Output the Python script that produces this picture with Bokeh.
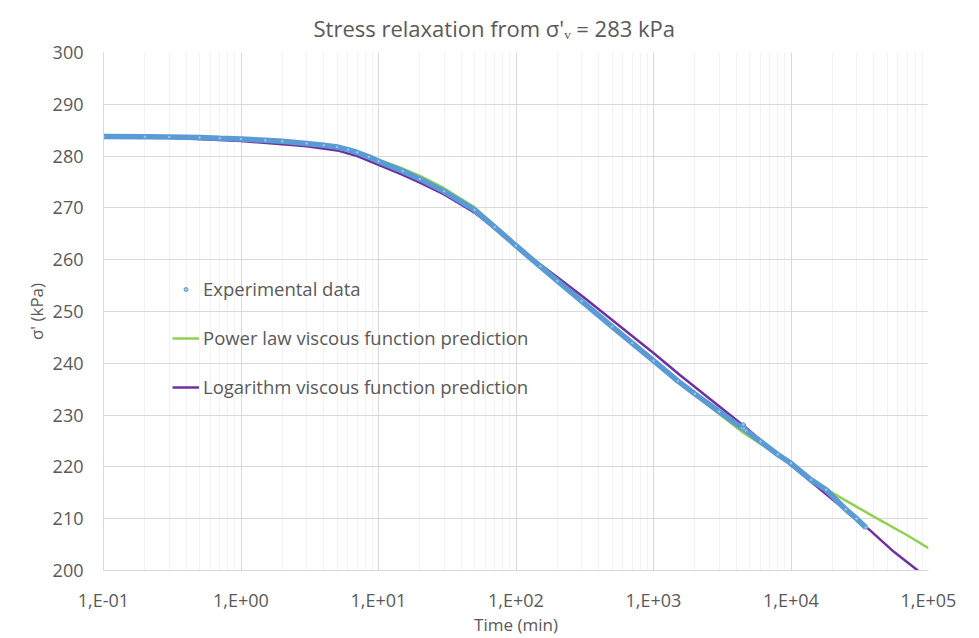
from bokeh.plotting import figure
from bokeh.models import (Range1d, FixedTicker, CustomJSTickFormatter, Legend, LegendItem)
from bokeh.embed import file_html
from bokeh.resources import INLINE

# ---- data ----
t_exp = [0.1, 0.2, 0.3, 0.5, 0.7, 1, 1.5, 2, 3, 4, 5, 6, 7, 8.5, 10, 15, 20, 30, 50, 70, 100,
         150, 200, 300, 500, 700, 1000, 1500, 2000, 3000, 4400, 4500, 4550, 4700, 6000, 8000,
         10000, 14000, 18000, 25000, 30000, 35000]
s_exp = [283.8, 283.75, 283.7, 283.6, 283.45, 283.3, 283.05, 282.85, 282.45, 282.1, 281.75,
         281.25, 280.7, 279.85, 279.0, 277.1, 275.6, 273.2, 269.6, 266.3, 262.7, 258.7, 255.9,
         252.0, 247.1, 243.9, 240.5, 236.6, 234.1, 230.7, 227.5, 228.2, 227.4, 227.0, 224.9,
         222.4, 220.7, 217.5, 215.6, 211.8, 210.0, 208.3]

t_pow = [0.1, 1, 2, 3, 5, 7, 10, 15, 20, 30, 50, 70, 100, 200, 500, 1000, 2000, 4500, 7000,
         10000, 15000, 20000, 40000, 70000, 100000]
s_pow = [283.8, 283.3, 282.9, 282.5, 281.8, 280.8, 279.3, 277.6, 276.2, 273.8, 270.1, 266.6,
         262.9, 255.8, 247.0, 240.5, 233.9, 226.6, 223.3, 220.7, 217.1, 215.0, 210.4, 206.8,
         204.3]

t_log = [0.1, 0.3, 1, 2, 3, 5, 7, 10, 15, 20, 30, 50, 70, 100, 127, 200, 312, 1000, 1563, 4450,
         10000, 37800, 56000, 100000]
s_log = [283.75, 283.55, 282.9, 282.3, 281.9, 281.1, 280.0, 278.3, 276.4, 274.9, 272.6, 269.1,
         266.0, 262.6, 260.5, 256.6, 252.7, 242.0, 237.7, 228.1, 220.3, 207.7, 203.6, 198.4]

x_ticks = [0.1, 1, 10, 100, 1000, 10000, 100000]
y_ticks = [200, 210, 220, 230, 240, 250, 260, 270, 280, 290, 300]

title_text = "Stress relaxation from \u03c3'\u1d65 = 283 kPa"
x_label = "Time (min)"
y_label = "\u03c3' (kPa)"
series_names = ["Experimental data", "Power law viscous function prediction",
                "Logarithm viscous function prediction"]

BLUE = "#5B9BD5"
GREEN = "#92D050"
PURPLE = "#7030A0"
TXT = "#595959"
GRID = "#D9D9D9"
MINOR = "#F2F2F2"
FONT = "Open Sans"

p = figure(width=979, height=638, x_axis_type="log",
           x_range=Range1d(0.1, 100000), y_range=Range1d(200, 300),
           output_backend="svg", toolbar_location=None,
           min_border_left=103, min_border_right=51, min_border_top=52, min_border_bottom=59)
p.outline_line_color = None

p.title.text = title_text
p.title.align = "left"
p.title.offset = 210
p.title.standoff = 20
p.title.text_font = FONT
p.title.text_font_size = "22px"
p.title.text_font_style = "normal"
p.title.text_color = TXT

minor = [m * d for d in x_ticks[:-1] for m in range(2, 10)]
p.xaxis.ticker = FixedTicker(ticks=x_ticks, minor_ticks=minor)
p.xaxis.formatter = CustomJSTickFormatter(code="""
const e = Math.round(Math.log10(tick));
return "1,E" + (e < 0 ? "-" : "+") + String(Math.abs(e)).padStart(2, "0");
""")
p.yaxis.ticker = FixedTicker(ticks=y_ticks)

for ax in (p.xaxis[0], p.yaxis[0]):
    ax.major_tick_line_color = None
    ax.minor_tick_line_color = None
    ax.axis_line_color = GRID
    ax.major_label_text_font = FONT
    ax.major_label_text_font_size = "18px"
    ax.major_label_text_color = TXT
    ax.axis_label_text_font = FONT
    ax.axis_label_text_font_size = "17px"
    ax.axis_label_text_font_style = "normal"
    ax.axis_label_text_color = TXT
p.xaxis.major_label_standoff = 11
p.yaxis.major_label_standoff = 14
p.yaxis.axis_label = y_label
p.yaxis.axis_label_standoff = 2
p.xaxis.axis_label = x_label
p.xaxis.axis_label_standoff = -2

p.xgrid.grid_line_color = GRID
p.xgrid.minor_grid_line_color = MINOR
p.ygrid.grid_line_color = GRID

r_pow = p.line(t_pow, s_pow, line_color=GREEN, line_width=2.5)
r_log = p.line(t_log, s_log, line_color=PURPLE, line_width=2.5)
p.line(t_exp, s_exp, line_color=BLUE, line_width=5.5)
r_exp = p.scatter(t_exp, s_exp, size=3.5, marker="circle", line_color=BLUE, fill_color="#9DC3E6",
                  line_width=1)

legend = Legend(items=[LegendItem(label=series_names[0], renderers=[r_exp]),
                       LegendItem(label=series_names[1], renderers=[r_pow]),
                       LegendItem(label=series_names[2], renderers=[r_log])],
                location=(69, 171), orientation="vertical")
legend.background_fill_alpha = 0
legend.border_line_color = None
legend.padding = 0
legend.margin = 0
legend.spacing = 24
legend.label_height = 22
legend.glyph_height = 10
legend.glyph_width = 27
legend.label_standoff = 4
legend.label_text_font = FONT
legend.label_text_font_size = "18.5px"
legend.label_text_color = TXT
p.add_layout(legend, "center")

open("out.html", "w").write(file_html(p, INLINE))
